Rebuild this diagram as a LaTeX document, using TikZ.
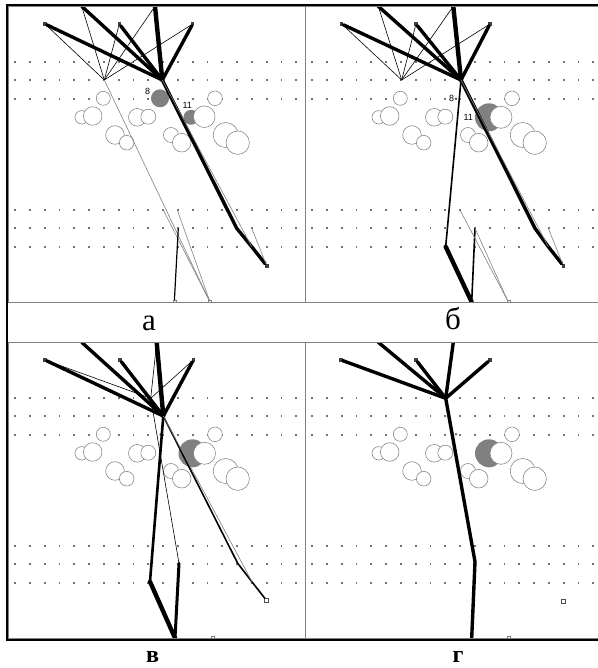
\documentclass[tikz,border=0pt]{standalone}
\usepackage{fontspec}
\setmainfont{Liberation Serif}
\newfontfamily\tagfont{Liberation Sans}

\tikzset{
  dotmark/.style={fill=black!55},
  bubble/.style={draw=gray, fill=white, line width=0.55pt},
  greydisc/.style={fill=gray},
  treenode/.style={rectangle, fill=black!75, minimum size=3.2pt, inner sep=0pt},
  tipnode/.style={rectangle, fill=black!75, minimum size=3.6pt, inner sep=0pt},
  endnode/.style={rectangle, draw=black!70, fill=white, line width=0.6pt, minimum size=4pt, inner sep=0pt},
  footnode/.style={rectangle, draw=gray, fill=white, line width=0.5pt, minimum size=3pt, inner sep=0pt},
  limb/.style={line width=3.4pt, line cap=round, line join=round},
  trunk/.style={line width=4.4pt, line cap=round, line join=round},
  stem/.style={line width=1.6pt, line join=round},
  twig/.style={line width=0.6pt},
  trace/.style={line width=0.6pt, gray},
  tag/.style={font=\tagfont\fontsize{9}{9}\selectfont, inner sep=0pt},
  caption/.style={anchor=base, inner sep=0pt},
  panelline/.style={gray, line width=0.8pt},
}

\begin{document}
\begin{tikzpicture}[x=1pt, y=-1pt]
    \useasboundingbox (0,0) rectangle (597,668);

    % Rows of dots in all four panels
    \foreach \px/\py in {0/0, 297/0, 0/336, 297/336}
    \foreach \row in {62,80,99,210,228,247}
    \foreach \k in {0,...,19}
    \fill[dotmark] ({\px+15+14.8*\k-0.9},{\py+\row-0.9}) rectangle ++(1.8,1.8);

    % Open circles, the same in every panel
    \foreach \px/\py in {0/0, 297/0, 0/336, 297/336}
    \foreach \cx/\cy/\r in {
        103.3/98.3/7, 81.7/117.3/6.7, 92.7/116/9.3, 137.3/117.3/8.8,
        148.3/116.7/7.5, 115/135/9.3, 126.7/142.7/7.3, 171/135/7.5,
        181.7/142.7/9.3, 215/98.3/7.3, 225.7/135/12.5, 237.7/142.7/11.7
    }
    \draw[bubble] (\px+\cx,\py+\cy) circle[radius=\r pt];

    % Panel a
    \begin{scope}
        \clip (9,6.3) rectangle (305,302);
        \fill[greydisc] (191,117.3) circle[radius=7.5pt];
        \draw[bubble] (204.3,116.7) circle[radius=10.8pt];
        \fill[greydisc] (160,98.3) circle[radius=9pt];
        \node[tag] (a-l8) at (147.7,91) {8};
        \node[tag] (a-l11) at (187.3,105) {11};

        \coordinate (a-t1) at (81.7,6.3);
        \coordinate (a-t2) at (155,6.3);
        \node[treenode] (a-n1) at (45,24) {};
        \node[treenode] (a-n2) at (119.3,24) {};
        \node[treenode] (a-n3) at (192.7,24) {};
        \coordinate (a-R) at (162.3,80);
        \coordinate (a-L) at (104.3,80);
        \coordinate (a-p1) at (163.3,210);
        \coordinate (a-p2) at (177.3,210);
        \coordinate (a-p3) at (178.3,228.3);
        \coordinate (a-k1) at (236.7,228.3);
        \coordinate (a-k2) at (251.7,246.7);
        \coordinate (a-k3) at (251.7,228.3);
        \node[footnode] (a-B1) at (174.3,302) {};
        \node[footnode] (a-B2) at (210,302) {};

        % branches into the two forks
        \foreach \s in {a-t1,a-n1,a-n2,a-n3}
        \draw[limb] (\s) -- (a-R);
        \draw[trunk] (a-t2) -- (a-R);
        \foreach \s in {a-t1,a-n1,a-n2,a-t2,a-n3}
        \draw[twig] (\s) -- (a-L);

        % lines down to the foot
        \foreach \s in {a-L,a-p1,a-p2}
        \draw[trace] (\s) -- (a-B2);
        \draw[line width=1.2pt] (a-p3) -- (a-B1);

        \node[tipnode] (a-D) at (266.7,265.7) {};
        \draw[limb] (a-R) -- (a-k1) -- (a-k2) -- (a-D);
        \draw[trace] (a-R) -- (a-k2);
        \draw[trace] (a-k3) -- (a-D);
    \end{scope}

    % Panel b
    \begin{scope}[shift={(297,0)}]
        \clip (8,6.3) rectangle (303,302);
        \fill[greydisc] (192,117.3) circle[radius=14pt];
        \draw[bubble] (204,117.3) circle[radius=11pt];
        \fill[black!70] (159,98.7) circle[radius=1.4pt];
        \node[tag] (b-l8) at (154.7,98.7) {8};
        \node[tag] (b-l11) at (171.3,117.3) {11};

        \coordinate (b-t1) at (81.3,6.3);
        \coordinate (b-t2) at (156.3,6.3);
        \node[treenode] (b-n1) at (44.7,24) {};
        \node[treenode] (b-n2) at (119,24) {};
        \node[treenode] (b-n3) at (193,24) {};
        \coordinate (b-R) at (164,80);
        \coordinate (b-L) at (104.7,80);
        \coordinate (b-q1) at (148.7,246.7);
        \coordinate (b-B1) at (174.7,302);
        \coordinate (b-p1) at (163,210);
        \coordinate (b-p3) at (178,228.3);
        \coordinate (b-k1) at (238,228.3);
        \coordinate (b-k2) at (251.3,246.7);
        \coordinate (b-k3) at (251.3,228.3);
        \node[footnode] (b-B2) at (211.3,302) {};

        \foreach \s in {b-t1,b-n1,b-n2,b-n3}
        \draw[limb] (\s) -- (b-R);
        \draw[trunk] (b-t2) -- (b-R);
        \foreach \s in {b-t1,b-n1,b-n2,b-t2,b-n3}
        \draw[twig] (\s) -- (b-L);

        \draw[stem] (b-R) -- (b-q1);
        \draw[trunk] (b-q1) -- (b-B1);
        \draw[stem] (b-B1) -- (b-p3);
        \foreach \s in {b-p1,b-p3}
        \draw[trace] (\s) -- (b-B2);

        \node[tipnode] (b-D) at (266.3,265.7) {};
        \draw[limb] (b-R) -- (b-k1) -- (b-k2) -- (b-D);
        \draw[trace] (b-R) -- (b-k2);
        \draw[trace] (b-k3) -- (b-D);
    \end{scope}

    % Panel c
    \begin{scope}[shift={(0,336)}]
        \clip (9,6) rectangle (305,302);
        \fill[greydisc] (192.5,117.3) circle[radius=14pt];
        \draw[bubble] (204.5,117.3) circle[radius=11pt];
        \fill[black!60] (160.7,98.3) circle[radius=1.4pt];

        \coordinate (c-t1) at (81.7,6.3);
        \coordinate (c-t2) at (156.7,6.3);
        \node[treenode] (c-n1) at (45,24) {};
        \node[treenode] (c-n2) at (120,24) {};
        \node[treenode] (c-n3) at (193.3,24) {};
        \coordinate (c-R) at (163.3,80);
        \coordinate (c-V) at (150.7,62.3);
        \coordinate (c-q1) at (150,245.7);
        \coordinate (c-B1) at (175,302);
        \coordinate (c-p3) at (179,227.3);
        \coordinate (c-k1) at (237.7,227.3);
        \coordinate (c-k2) at (252.3,246.3);
        \node[footnode] (c-B2) at (212.3,301.5) {};

        \foreach \s in {c-t1,c-n1,c-n2,c-n3}
        \draw[limb] (\s) -- (c-R);
        \draw[trunk] (c-t2) -- (c-R);
        \foreach \s in {c-n1,c-t2,c-n3}
        \draw[twig] (\s) -- (c-V);
        \draw[twig] (c-V) -- (c-p3);

        \draw[line width=2.6pt, line cap=round] (c-R) -- (c-q1);
        \draw[trunk] (c-q1) -- (c-B1);
        \draw[line width=3pt, line cap=round] (c-B1) -- (c-p3);

        \node[endnode] (c-D) at (266.7,264.7) {};
        \draw[stem] (c-R) -- (c-k1) -- (c-k2) -- (c-D);
        \draw[trace] (c-R) -- (c-k2);
    \end{scope}

    % Panel d
    \begin{scope}[shift={(297,336)}]
        \clip (8,6) rectangle (303,302);
        \fill[greydisc] (192,117.3) circle[radius=14pt];
        \draw[bubble] (204,117.3) circle[radius=11pt];
        \fill[black!60] (159,98.3) circle[radius=1.4pt];

        \coordinate (d-t1) at (81.3,6.3);
        \coordinate (d-t2) at (156.3,6.3);
        \node[treenode] (d-n1) at (44,24) {};
        \node[treenode] (d-n2) at (119,24) {};
        \node[treenode] (d-n3) at (193,24) {};
        \coordinate (d-R) at (148.7,62.3);
        \coordinate (d-q) at (178,225.7);
        \coordinate (d-B1) at (174.7,302);
        \node[footnode] (d-B2) at (211.3,301.5) {};
        \node[endnode] (d-D) at (266.3,265) {};

        \foreach \s in {d-t1,d-n1,d-n2,d-n3,d-t2}
        \draw[limb] (\s) -- (d-R);
        \draw[limb] (d-R) -- (d-q) -- (d-B1);
    \end{scope}

    % Frames
    \draw[panelline] (8.8,6.3) rectangle (305,302);
    \draw[panelline] (305,6.3) rectangle (600,302);
    \draw[panelline] (8.8,342) rectangle (305,638.2);
    \draw[panelline] (305,342) rectangle (600,638.2);
    \draw[line width=1.6pt] (600,4.8) -- (6.7,4.8) -- (6.7,640.2) -- (600,640.2);

    % Captions
    \node[caption, font=\fontsize{31}{31}\selectfont] (cap-a) at (149,330) {а};
    \node[caption, font=\fontsize{31}{31}\selectfont] (cap-b) at (453,329.5) {б};
    \node[caption, font=\bfseries\fontsize{24}{24}\selectfont] (cap-c) at (152.5,662.5) {в};
    \node[caption, font=\bfseries\fontsize{24}{24}\selectfont] (cap-d) at (458,662.5) {г};
\end{tikzpicture}
\end{document}
